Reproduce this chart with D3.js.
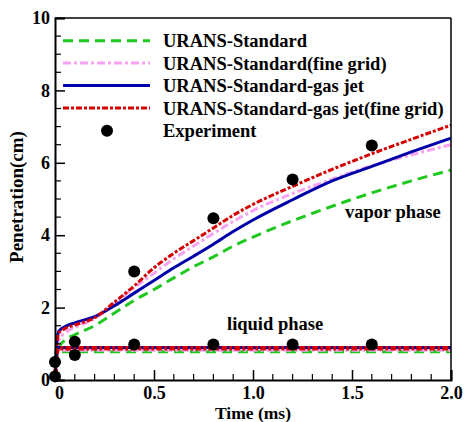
<!DOCTYPE html>
<html><head><meta charset="utf-8">
<script src="https://cdn.jsdelivr.net/npm/d3@7"></script>
<style>body{margin:0;background:#fff}svg{display:block}text{font-family:"Liberation Serif","Times New Roman",serif;font-weight:bold;fill:#000}</style>
</head><body>
<script>
// ---- data ----
const seriesNames = ["URANS-Standard","URANS-Standard(fine grid)","URANS-Standard-gas jet","URANS-Standard-gas jet(fine grid)"];
const vaporTime = [0,0.01,0.02,0.05,0.1,0.2,0.3,0.4,0.5,0.6,0.7,0.8,0.9,1.0,1.2,1.4,1.6,1.8,2.0];
const vaporStandard     = [0,0.70,0.90,1.10,1.25,1.50,1.85,2.20,2.50,2.82,3.13,3.40,3.70,3.95,4.40,4.80,5.17,5.50,5.80];
const vaporStandardFine = [0,0.80,1.10,1.30,1.45,1.70,2.10,2.55,2.95,3.35,3.70,4.05,4.38,4.68,5.15,5.55,5.92,6.22,6.50];
const vaporGasJet       = [0,1.10,1.35,1.47,1.58,1.75,2.05,2.40,2.75,3.10,3.42,3.75,4.10,4.42,4.98,5.50,5.90,6.30,6.68];
const vaporGasJetFine   = [0,1.00,1.30,1.42,1.52,1.72,2.15,2.60,3.10,3.50,3.85,4.20,4.55,4.85,5.35,5.82,6.25,6.65,7.04];
const liquidTime = [0,0.01,0.02,2.0];
const liquidStandard     = [0,0.70,0.78,0.78];
const liquidStandardFine = [0,0.75,0.82,0.82];
const liquidGasJet       = [0,0.85,0.90,0.90];
const liquidGasJetFine   = [0,0.82,0.88,0.88];
const expTime  = [0,0,0.1,0.4,0.8,1.2,1.6, 0.1,0.4,0.8,1.2,1.6];
const expValue = [0.1,0.5,1.06,3.0,4.47,5.54,6.48, 0.69,0.98,0.98,0.98,0.98];
const xTicks = [0,0.5,1.0,1.5,2.0];
const xTickLabels = ["0","0.5","1.0","1.5","2.0"];
const yTicks = [0,2,4,6,8,10];
const yTickLabels = ["0","2","4","6","8","10"];

const W=466,H=422;
const L=55,R=451,T=18,B=380;
const svg=d3.select("body").append("svg").attr("width",W).attr("height",H);
const x=d3.scaleLinear().domain([0,2]).range([L,R]);
const y=d3.scaleLinear().domain([0,10]).range([B,T]);

const styles=[
 {color:"#1ec81e",dash:"10,6",w:3},
 {color:"#f7a3f2",dash:"8,3,3,3",w:3},
 {color:"#0000a8",dash:null,w:3},
 {color:"#d40000",dash:"6,2,3,2",w:3}
];
const vapor=[vaporStandard,vaporStandardFine,vaporGasJet,vaporGasJetFine];
const liquid=[liquidStandard,liquidStandardFine,liquidGasJet,liquidGasJetFine];
const line=d3.line().curve(d3.curveMonotoneX);

const plot=svg.append("g");
[0,1,2,3].forEach(i=>{
  const s=styles[i];
  plot.append("path").attr("d",line(vaporTime.map((t,k)=>[x(t),y(vapor[i][k])])))
   .attr("fill","none").attr("stroke",s.color).attr("stroke-width",s.w).attr("stroke-dasharray",s.dash);
});
[0,1,2,3].forEach(i=>{
  const s=styles[i];
  plot.append("path").attr("d",d3.line()(liquidTime.map((t,k)=>[x(t),y(liquid[i][k])])))
   .attr("fill","none").attr("stroke",s.color).attr("stroke-width",i==3?4.5:3).attr("stroke-dasharray",s.dash);
});
plot.selectAll("circle.exp").data(expTime.map((t,k)=>[t,expValue[k]])).enter().append("circle")
 .attr("cx",d=>x(d[0])).attr("cy",d=>y(d[1])).attr("r",6).attr("fill","#000");

// axes frame
svg.append("line").attr("x1",L).attr("x2",R).attr("y1",T).attr("y2",T).attr("stroke","#000").attr("stroke-width",1.5);
svg.append("line").attr("x1",R).attr("x2",R).attr("y1",T).attr("y2",B).attr("stroke","#000").attr("stroke-width",1.5);
const xAxis=d3.axisBottom(x).tickValues(xTicks).tickFormat((d,i)=>xTickLabels[i]).tickSize(-10).tickPadding(6);
const gx=svg.append("g").attr("transform",`translate(0,${B})`).call(xAxis);
const yAxis=d3.axisLeft(y).tickValues(yTicks).tickFormat((d,i)=>yTickLabels[i]).tickSize(-10).tickPadding(5);
const gy=svg.append("g").attr("transform",`translate(${L},0)`).call(yAxis);
[gx,gy].forEach(g=>{g.select(".domain").attr("stroke","#000").attr("stroke-width",2);
 g.selectAll(".tick line").attr("stroke","#000").attr("stroke-width",1.5);
 g.selectAll("text").style("font-size","18px").style("font-family",'"Liberation Serif",serif').style("font-weight","bold").attr("fill","#000");});
gx.selectAll(".tick text").filter((d,i)=>i===0).attr("dx",4);
// minor ticks
const xMinor=d3.range(0,2.0001,0.1).filter(v=>Math.abs(v*2-Math.round(v*2))>1e-6);
svg.append("g").selectAll("line").data(xMinor).enter().append("line")
 .attr("x1",d=>x(d)).attr("x2",d=>x(d)).attr("y1",B).attr("y2",B-6).attr("stroke","#000").attr("stroke-width",1.2);
const yMinor=d3.range(0,10.0001,0.5).filter(v=>Math.abs(v/2-Math.round(v/2))>1e-6);
svg.append("g").selectAll("line").data(yMinor).enter().append("line")
 .attr("x1",L).attr("x2",L+6).attr("y1",d=>y(d)).attr("y2",d=>y(d)).attr("stroke","#000").attr("stroke-width",1.2);

// axis titles
svg.append("text").attr("x",253).attr("y",419).attr("text-anchor","middle").style("font-size","17.5px").text("Time (ms)");
svg.append("text").attr("transform","translate(23,197) rotate(-90)").attr("text-anchor","middle").style("font-size","19px").text("Penetration(cm)");

// annotations
svg.append("text").attr("x",345).attr("y",218).style("font-size","18.5px").text("vapor phase");
svg.append("text").attr("x",227).attr("y",330).style("font-size","18.5px").text("liquid phase");

// legend
const lg=svg.append("g");
const rowY=[40.7,63,85.5,108,130.7];
seriesNames.forEach((n,i)=>{
  const s=styles[i];
  lg.append("line").attr("x1",63).attr("x2",150).attr("y1",rowY[i]).attr("y2",rowY[i])
    .attr("stroke",s.color).attr("stroke-width",3).attr("stroke-dasharray",s.dash);
  lg.append("text").attr("x",163).attr("y",rowY[i]+6.5).style("font-size","18.5px").text(n);
});
lg.append("circle").attr("cx",107).attr("cy",rowY[4]).attr("r",6).attr("fill","#000");
lg.append("text").attr("x",163).attr("y",rowY[4]+6.5).style("font-size","18.5px").text("Experiment");
</script>
</body></html>
